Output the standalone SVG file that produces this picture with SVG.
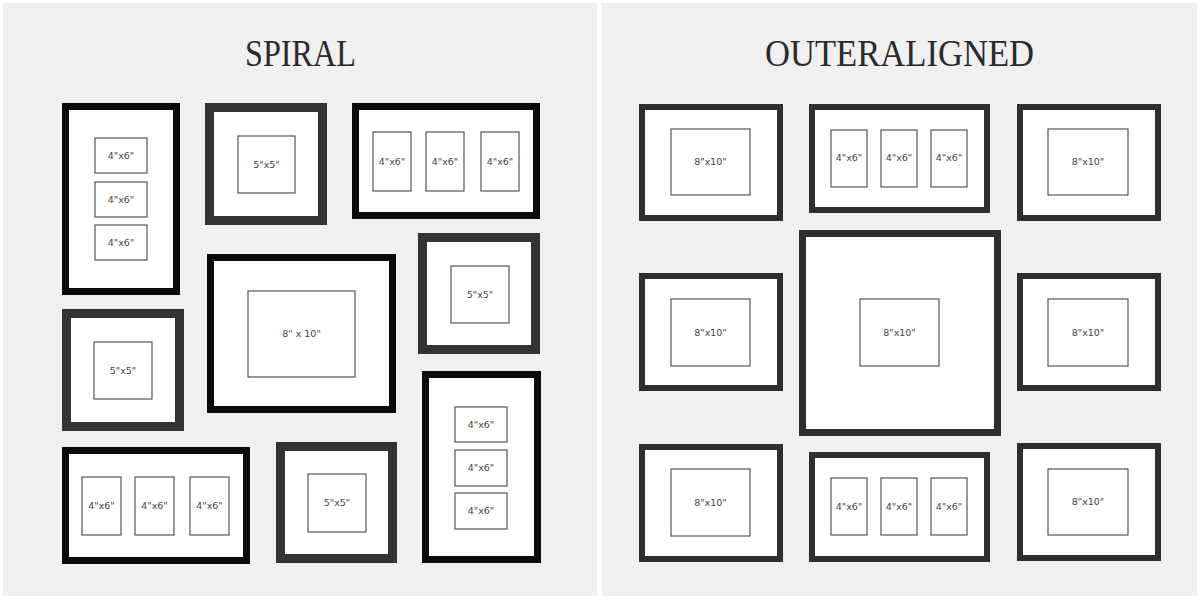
<svg xmlns="http://www.w3.org/2000/svg" width="1200" height="600" viewBox="0 0 1200 600">
<style>
.panel{fill:#f0f0f0}
.title{font-family:"Liberation Serif","Times New Roman",serif;font-size:38px;fill:#2a2a2a;text-anchor:middle}
.fb{fill:#fff;stroke:#0a0a0a;stroke-width:7}
.fg{fill:#fff;stroke:#333;stroke-width:9}
.fr{fill:#fff;stroke:#2e2e2e;stroke-width:6}
.mat{fill:#fff;stroke:#555;stroke-width:1.2}
.lbl{font-family:"DejaVu Sans","Liberation Sans",sans-serif;font-size:9.5px;fill:#444;text-anchor:middle}
</style>
<rect x="0" y="0" width="1200" height="600" fill="#fff"/>
<rect class="panel" x="3" y="3" width="594" height="593"/>
<rect class="panel" x="602" y="3" width="595" height="593"/>
<text class="title" x="300.5" y="66" textLength="111" lengthAdjust="spacingAndGlyphs">SPIRAL</text>
<text class="title" x="899.5" y="66" textLength="269" lengthAdjust="spacingAndGlyphs">OUTERALIGNED</text>

<g id="spiral">
<g id="s1">
<rect class="fb" x="65.5" y="106.5" width="111" height="185"/>
<rect class="mat" x="95" y="138" width="52" height="35"/><text class="lbl" x="121" y="159">4"x6"</text>
<rect class="mat" x="95" y="182" width="52" height="35"/><text class="lbl" x="121" y="203">4"x6"</text>
<rect class="mat" x="95" y="225" width="52" height="35"/><text class="lbl" x="121" y="246">4"x6"</text>
</g>
<g id="s2">
<rect class="fg" x="209.5" y="107.5" width="113" height="113"/>
<rect class="mat" x="238" y="136" width="57" height="57"/><text class="lbl" x="266.5" y="168">5"x5"</text>
</g>
<g id="s3">
<rect class="fb" x="355.5" y="106.5" width="181" height="109"/>
<rect class="mat" x="373" y="132" width="38" height="59"/><text class="lbl" x="392" y="165">4"x6"</text>
<rect class="mat" x="426" y="132" width="38" height="59"/><text class="lbl" x="445" y="165">4"x6"</text>
<rect class="mat" x="481" y="132" width="38" height="59"/><text class="lbl" x="500" y="165">4"x6"</text>
</g>
<g id="s4">
<rect class="fg" x="422.5" y="237.5" width="113" height="112"/>
<rect class="mat" x="451" y="266" width="58" height="57"/><text class="lbl" x="480" y="298">5"x5"</text>
</g>
<g id="s5">
<rect class="fb" x="210.5" y="257.5" width="182" height="152"/>
<rect class="mat" x="248" y="291" width="107" height="86"/><text class="lbl" x="301.5" y="337">8" x 10"</text>
</g>
<g id="s6">
<rect class="fg" x="66.5" y="313.5" width="113" height="113"/>
<rect class="mat" x="94" y="342" width="58" height="57"/><text class="lbl" x="123" y="374">5"x5"</text>
</g>
<g id="s7">
<rect class="fb" x="65.5" y="450.5" width="181" height="110"/>
<rect class="mat" x="82" y="477" width="39" height="58"/><text class="lbl" x="101.5" y="509">4"x6"</text>
<rect class="mat" x="135" y="477" width="39" height="58"/><text class="lbl" x="154.5" y="509">4"x6"</text>
<rect class="mat" x="190" y="477" width="39" height="58"/><text class="lbl" x="209.5" y="509">4"x6"</text>
</g>
<g id="s8">
<rect class="fg" x="280.5" y="446.5" width="112" height="112"/>
<rect class="mat" x="308" y="474" width="58" height="58"/><text class="lbl" x="337" y="506">5"x5"</text>
</g>
<g id="s9">
<rect class="fb" x="425.5" y="374.5" width="112" height="185"/>
<rect class="mat" x="455" y="407" width="52" height="35"/><text class="lbl" x="481" y="428">4"x6"</text>
<rect class="mat" x="455" y="450" width="52" height="36"/><text class="lbl" x="481" y="471">4"x6"</text>
<rect class="mat" x="455" y="493" width="52" height="36"/><text class="lbl" x="481" y="514">4"x6"</text>
</g>
</g>

<g id="outeraligned">
<g id="o1">
<rect class="fr" x="642" y="107" width="138" height="111"/>
<rect class="mat" x="671" y="129" width="79" height="66"/><text class="lbl" x="710.5" y="165">8"x10"</text>
</g>
<g id="o2">
<rect class="fr" x="812" y="107" width="175" height="103"/>
<rect class="mat" x="831" y="130" width="36" height="57"/><text class="lbl" x="849" y="161">4"x6"</text>
<rect class="mat" x="881" y="130" width="36" height="57"/><text class="lbl" x="899" y="161">4"x6"</text>
<rect class="mat" x="931" y="130" width="36" height="57"/><text class="lbl" x="949" y="161">4"x6"</text>
</g>
<g id="o3">
<rect class="fr" x="1020" y="107" width="138" height="111"/>
<rect class="mat" x="1048" y="129" width="80" height="66"/><text class="lbl" x="1088" y="165">8"x10"</text>
</g>
<g id="o4">
<rect class="fr" x="642" y="276" width="138" height="112"/>
<rect class="mat" x="671" y="299" width="79" height="67"/><text class="lbl" x="710.5" y="336">8"x10"</text>
</g>
<g id="o5">
<rect class="fr" x="802.5" y="233.5" width="195" height="199" style="stroke-width:7"/>
<rect class="mat" x="860" y="299" width="79" height="67"/><text class="lbl" x="899.5" y="336">8"x10"</text>
</g>
<g id="o6">
<rect class="fr" x="1020" y="276" width="138" height="112"/>
<rect class="mat" x="1048" y="299" width="80" height="67"/><text class="lbl" x="1088" y="336">8"x10"</text>
</g>
<g id="o7">
<rect class="fr" x="642" y="447" width="138" height="112"/>
<rect class="mat" x="671" y="469" width="79" height="67"/><text class="lbl" x="710.5" y="506">8"x10"</text>
</g>
<g id="o8">
<rect class="fr" x="812" y="455" width="175" height="104"/>
<rect class="mat" x="831" y="478" width="36" height="57"/><text class="lbl" x="849" y="510">4"x6"</text>
<rect class="mat" x="881" y="478" width="36" height="57"/><text class="lbl" x="899" y="510">4"x6"</text>
<rect class="mat" x="931" y="478" width="36" height="57"/><text class="lbl" x="949" y="510">4"x6"</text>
</g>
<g id="o9">
<rect class="fr" x="1020" y="446" width="138" height="112"/>
<rect class="mat" x="1048" y="469" width="80" height="66"/><text class="lbl" x="1088" y="505">8"x10"</text>
</g>
</g>
<g id="connectors"/>
</svg>
